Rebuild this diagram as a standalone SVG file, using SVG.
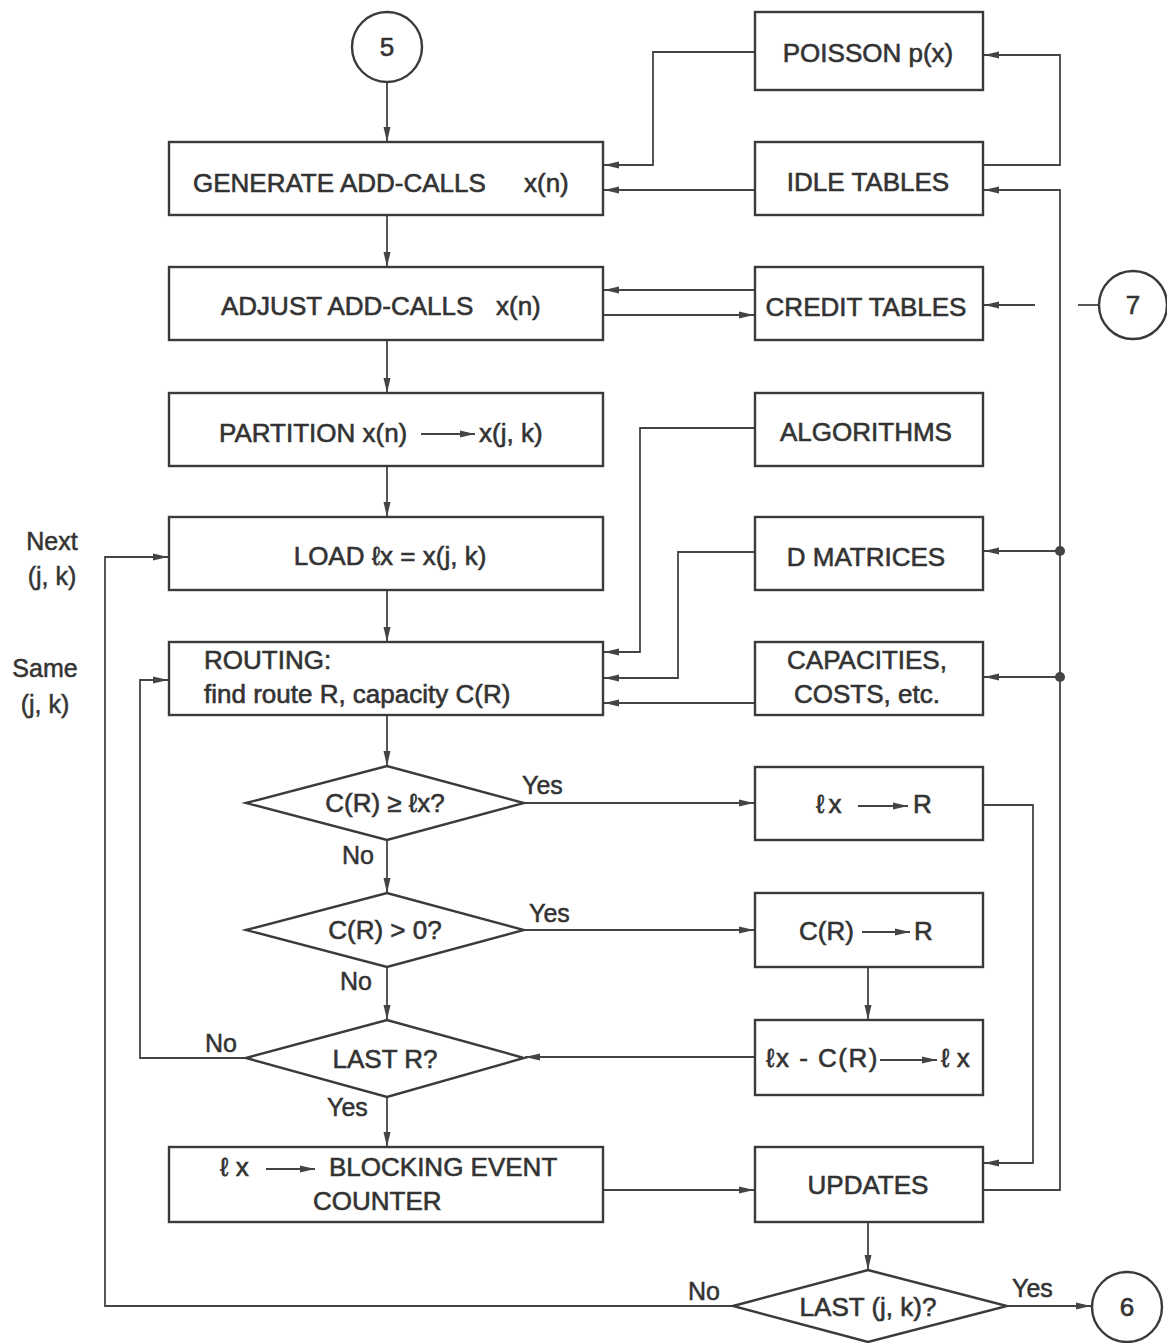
<svg xmlns="http://www.w3.org/2000/svg" width="1167" height="1343" viewBox="0 0 1167 1343">
<style>
.bg{fill:#ffffff}
.box{fill:#ffffff;stroke:#3a3a3a;stroke-width:2.4}
.conn{fill:none;stroke:#444;stroke-width:1.8}
.t{font-family:"Liberation Sans","DejaVu Sans",sans-serif;font-size:26px;fill:#333;stroke:#333;stroke-width:0.6}
.c{text-anchor:middle}
.lbl{font-family:"Liberation Sans","DejaVu Sans",sans-serif;font-size:25px;fill:#333;stroke:#333;stroke-width:0.5}
.dot{fill:#444}
</style>
<defs>
<marker id="ah" markerUnits="userSpaceOnUse" markerWidth="16" markerHeight="8" refX="15" refY="4" orient="auto">
<path d="M0,0.5 L15,4 L0,7.5 z" fill="#444"/>
</marker>
</defs>
<rect class="bg" x="0" y="0" width="1167" height="1343"/>

<g id="connectors">
<path class="conn" d="M387,82 V142" marker-end="url(#ah)"/>
<path class="conn" d="M387,215 V267" marker-end="url(#ah)"/>
<path class="conn" d="M387,340 V393" marker-end="url(#ah)"/>
<path class="conn" d="M387,466 V517" marker-end="url(#ah)"/>
<path class="conn" d="M387,590 V642" marker-end="url(#ah)"/>
<path class="conn" d="M387,715 V766" marker-end="url(#ah)"/>
<path class="conn" d="M387,840 V893" marker-end="url(#ah)"/>
<path class="conn" d="M387,967 V1020" marker-end="url(#ah)"/>
<path class="conn" d="M387,1097 V1147" marker-end="url(#ah)"/>
<path class="conn" d="M755,52 H653 V165 H604" marker-end="url(#ah)"/>
<path class="conn" d="M755,190 H604" marker-end="url(#ah)"/>
<path class="conn" d="M983,165 H1060 V55 H984" marker-end="url(#ah)"/>
<path class="conn" d="M755,290 H604" marker-end="url(#ah)"/>
<path class="conn" d="M603,315 H754" marker-end="url(#ah)"/>
<path class="conn" d="M1035,305 H984" marker-end="url(#ah)"/>
<path class="conn" d="M1099,305 H1078"/>
<path class="conn" d="M983,1190 H1060 V190 H984" marker-end="url(#ah)"/>
<path class="conn" d="M1060,551 H984" marker-end="url(#ah)"/>
<path class="conn" d="M1060,677 H984" marker-end="url(#ah)"/>
<circle class="dot" cx="1060" cy="551" r="5"/>
<circle class="dot" cx="1060" cy="677" r="5"/>
<path class="conn" d="M755,428 H640 V652 H604" marker-end="url(#ah)"/>
<path class="conn" d="M755,552 H678 V678 H604" marker-end="url(#ah)"/>
<path class="conn" d="M755,703 H604" marker-end="url(#ah)"/>
<path class="conn" d="M524,803 H754" marker-end="url(#ah)"/>
<path class="conn" d="M524,930 H754" marker-end="url(#ah)"/>
<path class="conn" d="M868,967 V1020" marker-end="url(#ah)"/>
<path class="conn" d="M755,1057 H525" marker-end="url(#ah)"/>
<path class="conn" d="M246,1058 H140 V680 H168" marker-end="url(#ah)"/>
<path class="conn" d="M983,805 H1033 V1163 H984" marker-end="url(#ah)"/>
<path class="conn" d="M603,1190 H754" marker-end="url(#ah)"/>
<path class="conn" d="M868,1222 V1270" marker-end="url(#ah)"/>
<path class="conn" d="M733,1306 H105 V557 H168" marker-end="url(#ah)"/>
<path class="conn" d="M1007,1306 H1091" marker-end="url(#ah)"/>
<text class="lbl" x="522" y="794">Yes</text>
<text class="lbl" x="342" y="864">No</text>
<text class="lbl" x="529" y="922">Yes</text>
<text class="lbl" x="340" y="990">No</text>
<text class="lbl" x="205" y="1052">No</text>
<text class="lbl" x="327" y="1116">Yes</text>
<text class="lbl" x="688" y="1300">No</text>
<text class="lbl" x="1012" y="1297">Yes</text>
<text class="lbl c" x="52" y="550">Next</text>
<text class="lbl c" x="52" y="585">(j, k)</text>
<text class="lbl c" x="45" y="677">Same</text>
<text class="lbl c" x="45" y="713">(j, k)</text>
</g>

<g id="c5"><circle class="box" cx="387" cy="47" r="35"/><text class="t c" x="387" y="56">5</text></g>
<g id="c7"><circle class="box" cx="1133" cy="305" r="34"/><text class="t c" x="1133" y="314">7</text></g>
<g id="c6"><circle class="box" cx="1127" cy="1307" r="35"/><text class="t c" x="1127" y="1316">6</text></g>

<g id="generate"><rect class="box" x="169" y="142" width="434" height="73"/><text class="t" x="193" y="192">GENERATE ADD-CALLS</text><text class="t" x="524" y="192">x(n)</text></g>
<g id="adjust"><rect class="box" x="169" y="267" width="434" height="73"/><text class="t" x="221" y="315">ADJUST ADD-CALLS</text><text class="t" x="496" y="315">x(n)</text></g>
<g id="partition"><rect class="box" x="169" y="393" width="434" height="73"/><text class="t" x="219" y="442">PARTITION x(n)</text><line class="conn" x1="421" y1="434" x2="475" y2="434" marker-end="url(#ah)"/><text class="t" x="479" y="442">x(j, k)</text></g>
<g id="load"><rect class="box" x="169" y="517" width="434" height="73"/><text class="t c" x="390" y="565">LOAD  ℓx = x(j, k)</text></g>
<g id="routing"><rect class="box" x="169" y="642" width="434" height="73"/><text class="t" x="204" y="669">ROUTING:</text><text class="t" x="204" y="703">find route R, capacity C(R)</text></g>
<g id="blocking"><rect class="box" x="169" y="1147" width="434" height="75"/><text class="t" x="220" y="1176">ℓ x</text><line class="conn" x1="266" y1="1169" x2="315" y2="1169" marker-end="url(#ah)"/><text class="t" x="329" y="1176">BLOCKING EVENT</text><text class="t" x="313" y="1210">COUNTER</text></g>

<g id="poisson"><rect class="box" x="755" y="12" width="228" height="78"/><text class="t c" x="868" y="62">POISSON p(x)</text></g>
<g id="idle"><rect class="box" x="755" y="142" width="228" height="73"/><text class="t c" x="868" y="191">IDLE TABLES</text></g>
<g id="credit"><rect class="box" x="755" y="267" width="228" height="73"/><text class="t c" x="866" y="316">CREDIT TABLES</text></g>
<g id="algorithms"><rect class="box" x="755" y="393" width="228" height="73"/><text class="t c" x="866" y="441">ALGORITHMS</text></g>
<g id="dmatrices"><rect class="box" x="755" y="517" width="228" height="73"/><text class="t c" x="866" y="566">D MATRICES</text></g>
<g id="capacities"><rect class="box" x="755" y="642" width="228" height="73"/><text class="t c" x="867" y="669">CAPACITIES,</text><text class="t c" x="867" y="703">COSTS, etc.</text></g>
<g id="lxr"><rect class="box" x="755" y="767" width="228" height="73"/><text class="t" x="816" y="813" letter-spacing="4">ℓx</text><line class="conn" x1="858" y1="806" x2="908" y2="806" marker-end="url(#ah)"/><text class="t" x="913" y="813">R</text></g>
<g id="crr"><rect class="box" x="755" y="893" width="228" height="74"/><text class="t" x="799" y="940">C(R)</text><line class="conn" x1="862" y1="932" x2="910" y2="932" marker-end="url(#ah)"/><text class="t" x="914" y="940">R</text></g>
<g id="lxc"><rect class="box" x="755" y="1020" width="228" height="75"/><text class="t" x="766" y="1067" letter-spacing="1.5">ℓx - C(R)</text><line class="conn" x1="880" y1="1060" x2="937" y2="1060" marker-end="url(#ah)"/><text class="t" x="941" y="1067">ℓ x</text></g>
<g id="updates"><rect class="box" x="755" y="1147" width="228" height="75"/><text class="t c" x="868" y="1194">UPDATES</text></g>

<g id="d1"><polygon class="box" points="246,803 387,766 524,803 387,840"/><text class="t c" x="385" y="812">C(R) ≥ ℓx?</text></g>
<g id="d2"><polygon class="box" points="246,930 387,893 524,930 387,967"/><text class="t c" x="385" y="939">C(R) &gt; 0?</text></g>
<g id="d3"><polygon class="box" points="246,1058 387,1020 524,1058 387,1097"/><text class="t c" x="385" y="1068">LAST R?</text></g>
<g id="d4"><polygon class="box" points="733,1306 868,1270 1007,1306 868,1342"/><text class="t c" x="868" y="1316">LAST (j, k)?</text></g>
</svg>
